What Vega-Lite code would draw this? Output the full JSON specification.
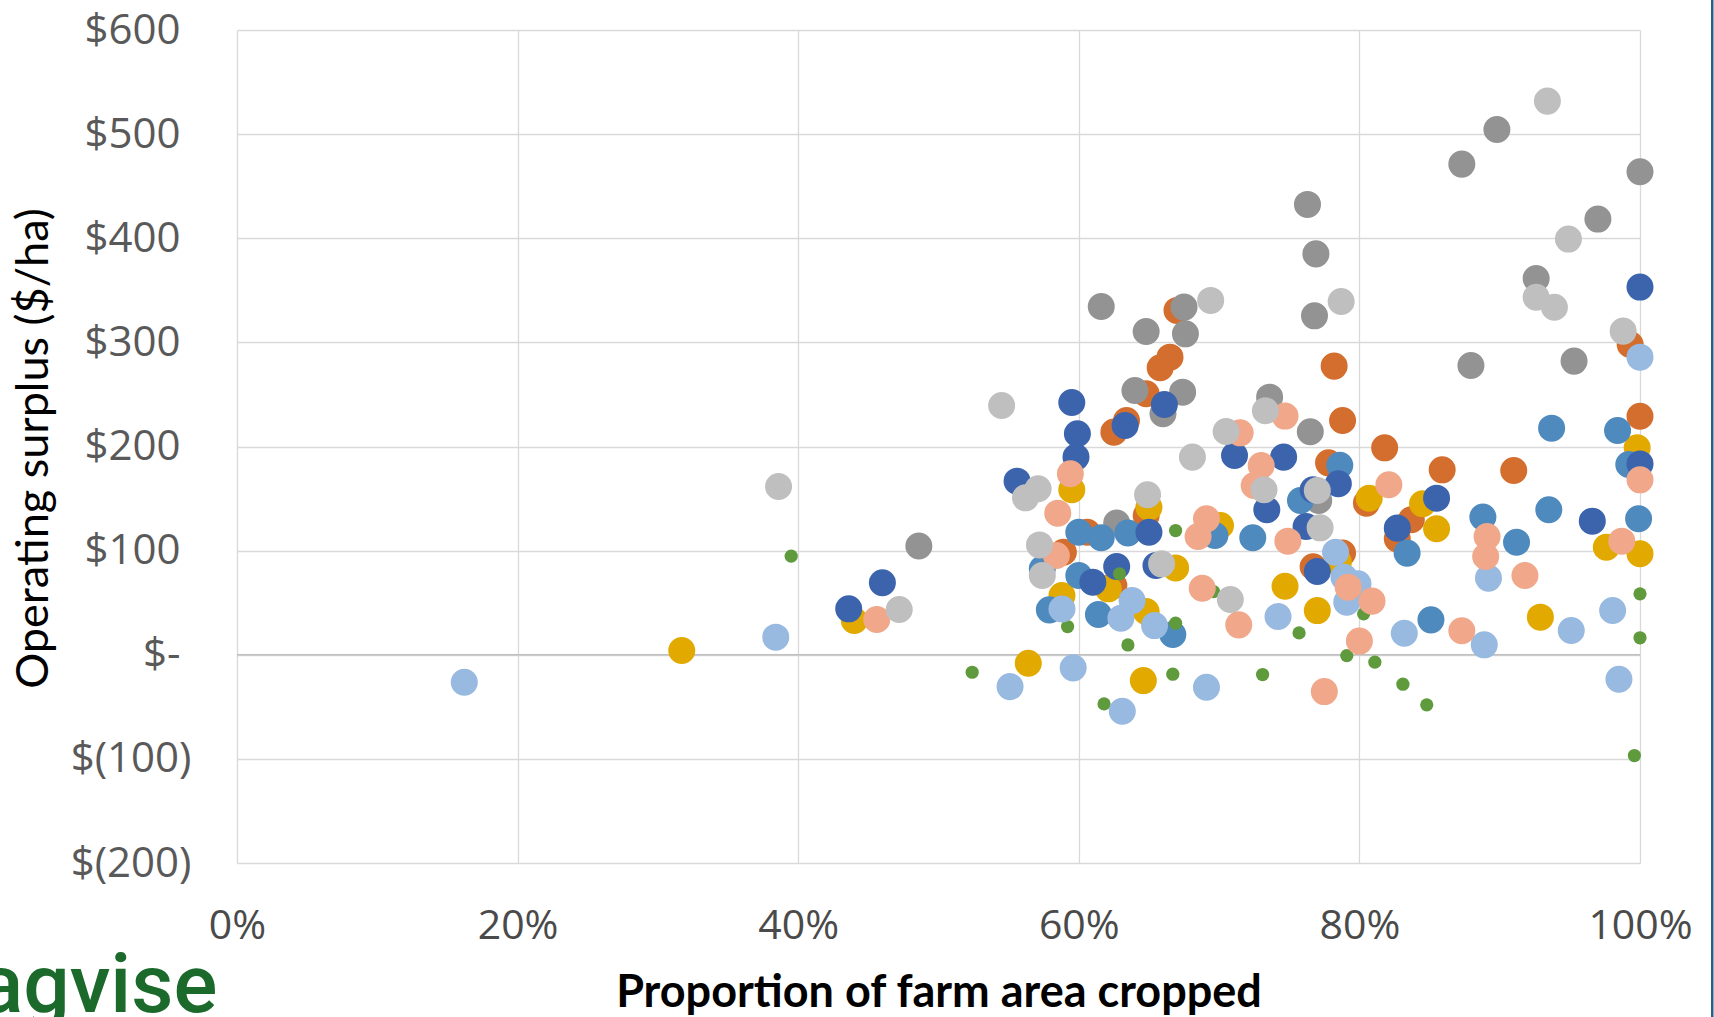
{
  "$schema": "https://vega.github.io/schema/vega-lite/v6.json",
  "width": 1403,
  "height": 833,
  "autosize": {"type": "none"},
  "padding": {"left": 237, "top": 30, "right": 74, "bottom": 154},
  "background": "white",
  "config": {"view": {"stroke": null}},
  "datasets": {
    "farms": [
      {"series":"S3","cropped":67.0,"surplus":330.7},{"series":"S3","cropped":66.5,"surplus":285.8},{"series":"S3","cropped":65.8,"surplus":275.6},{"series":"S3","cropped":64.8,"surplus":250.6},{"series":"S3","cropped":63.4,"surplus":225},{"series":"S3","cropped":62.5,"surplus":213.8},{"series":"S3","cropped":78.2,"surplus":277.2},{"series":"S3","cropped":78.8,"surplus":225},{"series":"S3","cropped":77.8,"surplus":184.3},{"series":"S3","cropped":64.8,"surplus":133.8},{"series":"S3","cropped":60.6,"surplus":117.7},{"series":"S3","cropped":58.9,"surplus":98.5},{"series":"S3","cropped":62.5,"surplus":66.5},{"series":"S3","cropped":76.7,"surplus":84.5},{"series":"S3","cropped":78.8,"surplus":97.6},{"series":"S3","cropped":81.8,"surplus":198.7},{"series":"S3","cropped":85.9,"surplus":177.6},{"series":"S3","cropped":91.0,"surplus":177},{"series":"S3","cropped":99.3,"surplus":298},{"series":"S3","cropped":100.0,"surplus":229.1},{"series":"S3","cropped":80.5,"surplus":145.6},{"series":"S3","cropped":83.7,"surplus":129.6},{"series":"S3","cropped":82.7,"surplus":111.3},
      {"series":"S1","cropped":48.6,"surplus":104.5},{"series":"S1","cropped":61.6,"surplus":334.5},{"series":"S1","cropped":67.5,"surplus":333.9},{"series":"S1","cropped":64.8,"surplus":310.5},{"series":"S1","cropped":67.6,"surplus":308.2},{"series":"S1","cropped":64.0,"surplus":253.8},{"series":"S1","cropped":67.4,"surplus":252.2},{"series":"S1","cropped":66.0,"surplus":231.4},{"series":"S1","cropped":62.7,"surplus":126.4},{"series":"S1","cropped":73.6,"surplus":247.4},{"series":"S1","cropped":76.5,"surplus":214.1},{"series":"S1","cropped":77.1,"surplus":148.2},{"series":"S1","cropped":76.9,"surplus":385},{"series":"S1","cropped":76.8,"surplus":325.5},{"series":"S1","cropped":76.3,"surplus":432.5},{"series":"S1","cropped":89.8,"surplus":504.5},{"series":"S1","cropped":87.3,"surplus":471.2},{"series":"S1","cropped":100.0,"surplus":463.8},{"series":"S1","cropped":97.0,"surplus":418.4},{"series":"S1","cropped":92.6,"surplus":361.4},{"series":"S1","cropped":87.95,"surplus":277.8},{"series":"S1","cropped":95.3,"surplus":282},
      {"series":"S8","cropped":31.7,"surplus":4.1},{"series":"S8","cropped":44.0,"surplus":32.9},{"series":"S8","cropped":59.5,"surplus":158.4},{"series":"S8","cropped":65.0,"surplus":141.7},{"series":"S8","cropped":70.1,"surplus":124.1},{"series":"S8","cropped":58.8,"surplus":56.8},{"series":"S8","cropped":62.1,"surplus":63.3},{"series":"S8","cropped":64.8,"surplus":41.5},{"series":"S8","cropped":66.9,"surplus":83.4},{"series":"S8","cropped":74.7,"surplus":65.8},{"series":"S8","cropped":77.0,"surplus":42.4},{"series":"S8","cropped":56.4,"surplus":-8.2},{"series":"S8","cropped":64.6,"surplus":-24.8},{"series":"S8","cropped":99.8,"surplus":198.7},{"series":"S8","cropped":80.7,"surplus":150.4},{"series":"S8","cropped":84.5,"surplus":145},{"series":"S8","cropped":85.5,"surplus":121},{"series":"S8","cropped":97.6,"surplus":103.3},{"series":"S8","cropped":100.0,"surplus":97},{"series":"S8","cropped":92.9,"surplus":36.1},{"series":"S8","cropped":78.5,"surplus":89},
      {"series":"S5","cropped":57.4,"surplus":82.5},{"series":"S5","cropped":57.9,"surplus":43.1},{"series":"S5","cropped":60.0,"surplus":117.7},{"series":"S5","cropped":60.0,"surplus":76.1},{"series":"S5","cropped":61.6,"surplus":112.3},{"series":"S5","cropped":63.5,"surplus":117},{"series":"S5","cropped":61.4,"surplus":38.6},{"series":"S5","cropped":66.7,"surplus":19.4},{"series":"S5","cropped":69.7,"surplus":114.5},{"series":"S5","cropped":72.4,"surplus":112.3},{"series":"S5","cropped":75.8,"surplus":148.2},{"series":"S5","cropped":78.6,"surplus":182},{"series":"S5","cropped":93.7,"surplus":217.6},{"series":"S5","cropped":98.4,"surplus":215.4},{"series":"S5","cropped":99.2,"surplus":182.7},{"series":"S5","cropped":88.8,"surplus":132.2},{"series":"S5","cropped":93.5,"surplus":139.2},{"series":"S5","cropped":99.9,"surplus":130.6},{"series":"S5","cropped":91.2,"surplus":108.1},{"series":"S5","cropped":83.4,"surplus":97.6},{"series":"S5","cropped":85.1,"surplus":33.5},
      {"series":"S4","cropped":43.6,"surplus":44.1},{"series":"S4","cropped":46.0,"surplus":69.1},{"series":"S4","cropped":55.6,"surplus":166.7},{"series":"S4","cropped":59.5,"surplus":242.3},{"series":"S4","cropped":59.9,"surplus":212.2},{"series":"S4","cropped":59.8,"surplus":189.8},{"series":"S4","cropped":63.3,"surplus":220.2},{"series":"S4","cropped":66.1,"surplus":240.4},{"series":"S4","cropped":71.1,"surplus":191.4},{"series":"S4","cropped":74.6,"surplus":189.8},{"series":"S4","cropped":73.4,"surplus":139.2},{"series":"S4","cropped":78.5,"surplus":164.2},{"series":"S4","cropped":76.7,"surplus":158.4},{"series":"S4","cropped":76.2,"surplus":123.2},{"series":"S4","cropped":65.0,"surplus":117.7},{"series":"S4","cropped":62.7,"surplus":84.7},{"series":"S4","cropped":61.0,"surplus":69.7},{"series":"S4","cropped":65.5,"surplus":85.7},{"series":"S4","cropped":77.0,"surplus":79.9},{"series":"S4","cropped":100.0,"surplus":353.1},{"series":"S4","cropped":100.0,"surplus":183.3},{"series":"S4","cropped":85.5,"surplus":150.4},{"series":"S4","cropped":96.6,"surplus":128.3},{"series":"S4","cropped":82.7,"surplus":121.6},
      {"series":"S9","cropped":39.5,"surplus":94.7},{"series":"S9","cropped":66.9,"surplus":119.3},{"series":"S9","cropped":62.9,"surplus":77.7},{"series":"S9","cropped":59.2,"surplus":27.1},{"series":"S9","cropped":66.9,"surplus":30.3},{"series":"S9","cropped":63.5,"surplus":9.4},{"series":"S9","cropped":69.6,"surplus":60.7},{"series":"S9","cropped":75.7,"surplus":21.0},{"series":"S9","cropped":52.4,"surplus":-16.8},{"series":"S9","cropped":61.8,"surplus":-47.2},{"series":"S9","cropped":66.7,"surplus":-18.7},{"series":"S9","cropped":73.1,"surplus":-19.0},{"series":"S9","cropped":79.1,"surplus":-0.8},{"series":"S9","cropped":100.0,"surplus":58.5},{"series":"S9","cropped":100.0,"surplus":16.3},{"series":"S9","cropped":99.6,"surplus":-96.8},{"series":"S9","cropped":83.1,"surplus":-28.3},{"series":"S9","cropped":84.8,"surplus":-48.1},{"series":"S9","cropped":81.1,"surplus":-7.1},{"series":"S9","cropped":80.3,"surplus":39.3},
      {"series":"S6","cropped":16.2,"surplus":-26.4},{"series":"S6","cropped":38.4,"surplus":16.9},{"series":"S6","cropped":58.8,"surplus":44.0},{"series":"S6","cropped":63.8,"surplus":52.0},{"series":"S6","cropped":63.0,"surplus":35.1},{"series":"S6","cropped":65.4,"surplus":28.0},{"series":"S6","cropped":74.2,"surplus":36.7},{"series":"S6","cropped":78.3,"surplus":98.5},{"series":"S6","cropped":55.1,"surplus":-30.6},{"series":"S6","cropped":59.6,"surplus":-12.6},{"series":"S6","cropped":63.1,"surplus":-54.3},{"series":"S6","cropped":69.1,"surplus":-31.2},{"series":"S6","cropped":100.0,"surplus":285.8},{"series":"S6","cropped":89.2,"surplus":73.6},{"series":"S6","cropped":98.05,"surplus":42.5},{"series":"S6","cropped":98.5,"surplus":-23.5},{"series":"S6","cropped":95.1,"surplus":23.3},{"series":"S6","cropped":88.9,"surplus":9.5},{"series":"S6","cropped":83.2,"surplus":20.7},{"series":"S6","cropped":79.1,"surplus":50.5},{"series":"S6","cropped":79.9,"surplus":68.1},{"series":"S6","cropped":78.9,"surplus":74.5},
      {"series":"S7","cropped":45.6,"surplus":33.8},{"series":"S7","cropped":59.4,"surplus":173.8},{"series":"S7","cropped":58.5,"surplus":136},{"series":"S7","cropped":74.7,"surplus":229.2},{"series":"S7","cropped":71.5,"surplus":213.1},{"series":"S7","cropped":73.0,"surplus":181.8},{"series":"S7","cropped":72.5,"surplus":162.6},{"series":"S7","cropped":69.1,"surplus":130.5},{"series":"S7","cropped":68.5,"surplus":113.6},{"series":"S7","cropped":74.9,"surplus":109.1},{"series":"S7","cropped":58.4,"surplus":95.3},{"series":"S7","cropped":68.8,"surplus":63.9},{"series":"S7","cropped":71.4,"surplus":28.7},{"series":"S7","cropped":77.5,"surplus":-35.4},{"series":"S7","cropped":100.0,"surplus":168},{"series":"S7","cropped":82.1,"surplus":163.2},{"series":"S7","cropped":89.1,"surplus":113.6},{"series":"S7","cropped":89.0,"surplus":94.4},{"series":"S7","cropped":91.8,"surplus":76.1},{"series":"S7","cropped":98.7,"surplus":109.1},{"series":"S7","cropped":87.3,"surplus":23},{"series":"S7","cropped":80.0,"surplus":13.1},{"series":"S7","cropped":80.9,"surplus":51.5},{"series":"S7","cropped":79.2,"surplus":64.9},
      {"series":"S2","cropped":38.6,"surplus":161.6},{"series":"S2","cropped":47.2,"surplus":43.4},{"series":"S2","cropped":54.5,"surplus":239.4},{"series":"S2","cropped":57.1,"surplus":159.4},{"series":"S2","cropped":56.2,"surplus":150.7},{"series":"S2","cropped":69.4,"surplus":340.3},{"series":"S2","cropped":78.7,"surplus":339.3},{"series":"S2","cropped":68.1,"surplus":189.8},{"series":"S2","cropped":73.3,"surplus":234.3},{"series":"S2","cropped":70.5,"surplus":214.4},{"series":"S2","cropped":73.2,"surplus":158.4},{"series":"S2","cropped":77.0,"surplus":157.8},{"series":"S2","cropped":77.2,"surplus":121.9},{"series":"S2","cropped":64.9,"surplus":153.6},{"series":"S2","cropped":57.2,"surplus":105.5},{"series":"S2","cropped":57.4,"surplus":76.1},{"series":"S2","cropped":65.9,"surplus":87.3},{"series":"S2","cropped":70.8,"surplus":53.0},{"series":"S2","cropped":93.4,"surplus":531.7},{"series":"S2","cropped":94.9,"surplus":399.2},{"series":"S2","cropped":92.6,"surplus":343.4},{"series":"S2","cropped":93.9,"surplus":333.8},{"series":"S2","cropped":98.8,"surplus":310.8}
    ]
  },
  "layer": [
    {
      "data": {"values": [{}]},
      "mark": {"type": "rule", "color": "#bfbfbf", "strokeWidth": 1.6},
      "encoding": {"y": {"datum": 0, "type": "quantitative"}}
    },
    {
      "data": {"name": "farms"},
      "mark": {"type": "point", "filled": true, "opacity": 1, "shape": "circle"},
      "encoding": {
        "x": {
          "field": "cropped", "type": "quantitative",
          "scale": {"domain": [0, 100], "nice": false, "zero": false},
          "axis": {
            "values": [0, 20, 40, 60, 80, 100],
            "labelExpr": "datum.value + '%'",
            "grid": true, "gridColor": "#d9d9d9", "gridWidth": 1.3,
            "domain": false, "ticks": false,
            "labelFont": "Open Sans", "labelFontSize": 41, "labelColor": "#4a4a4a",
            "labelPadding": 43, "labelFlush": false, "labelOverlap": false,
            "title": "Proportion of farm area cropped",
            "titleFont": "Lato", "titleFontSize": 45, "titleFontWeight": "bold", "titleColor": "#000000",
            "titleBaseline": "alphabetic", "titleY": 143
          }
        },
        "y": {
          "field": "surplus", "type": "quantitative",
          "scale": {"domain": [-200, 600], "nice": false, "zero": false},
          "axis": {
            "values": [-200, -100, 0, 100, 200, 300, 400, 500, 600],
            "labelExpr": "datum.value == 0 ? '$-' : (datum.value < 0 ? '$(' + abs(datum.value) + ')' : '$' + datum.value)",
            "grid": true, "gridColor": "#d9d9d9", "gridWidth": 1.3,
            "domain": false, "ticks": false,
            "labelFont": "Open Sans", "labelFontSize": 42, "labelColor": "#595959",
            "labelPadding": {"condition": {"test": "datum.value < 0", "value": 46}, "value": 57},
            "labelFlush": false, "labelOverlap": false,
            "title": "Operating surplus ($/ha)",
            "titleFont": "Lato", "titleFontSize": 45, "titleFontWeight": "normal", "titleColor": "#000000",
            "titleAngle": 270, "titleAlign": "center", "titleBaseline": "alphabetic",
            "titleX": -190, "titleY": 418
          }
        },
        "color": {
          "field": "series", "type": "nominal",
          "scale": {
            "domain": ["S1", "S2", "S3", "S4", "S5", "S6", "S7", "S8", "S9"],
            "range": ["#939393", "#bfbfbf", "#d46e2e", "#3c64ad", "#4e8abe", "#98b9e0", "#f0a78a", "#e2aa00", "#5f9a3c"]
          },
          "legend": null
        },
        "size": {
          "condition": {"test": "datum.series === 'S9'", "value": 175},
          "value": 730
        }
      }
    },
    {
      "data": {"values": [{}]},
      "mark": {"type": "text", "font": "Roboto", "fontWeight": 500, "fontSize": 82, "color": "#1b6a2c", "align": "right", "baseline": "alphabetic"},
      "encoding": {
        "x": {"datum": -1.4, "type": "quantitative"},
        "y": {"datum": -343, "type": "quantitative"},
        "text": {"value": "agvise"}
      }
    },
    {
      "data": {"values": [{}]},
      "mark": {"type": "rule", "color": "#245f8f", "strokeWidth": 2.5},
      "encoding": {
        "x": {"datum": 105.15, "type": "quantitative"},
        "y": {"datum": 640, "type": "quantitative"},
        "y2": {"datum": -360}
      }
    }
  ]
}
